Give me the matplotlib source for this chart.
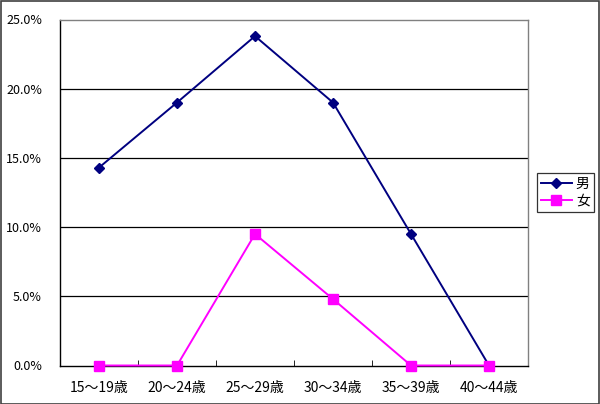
import matplotlib
matplotlib.use("Agg")
import matplotlib.pyplot as plt
from matplotlib.patches import Rectangle

plt.rcParams['font.family'] = ['Noto Sans CJK JP', 'DejaVu Sans']

categories = ["15～19歳", "20～24歳", "25～29歳", "30～34歳", "35～39歳", "40～44歳"]
male = [14.3, 19.0, 23.8, 19.0, 9.5, 0.0]
female = [0.0, 0.0, 9.5, 4.8, 0.0, 0.0]
yticks = [0, 5, 10, 15, 20, 25]
ytick_labels = ["0.0%", "5.0%", "10.0%", "15.0%", "20.0%", "25.0%"]

W, H = 600, 404
fig = plt.figure(figsize=(W / 100, H / 100), dpi=100)
fig.patches.append(Rectangle((0.5 / W, 0.5 / H), 1 - 1.5 / W, 1 - 1.5 / H, transform=fig.transFigure,
                             fill=False, edgecolor="#404040", linewidth=1.2))

left, right, top, bottom = 60, 528, 19.5, 365.5
ax = fig.add_axes([left / W, 1 - bottom / H, (right - left) / W, (bottom - top) / H])

x = list(range(len(categories)))
ax.plot(x, male, color="#000080", marker="D", markersize=5.5, linewidth=1.4, label="男", clip_on=False, zorder=3)
ax.plot(x, female, color="#FF00FF", marker="s", markersize=7.5, linewidth=1.4, label="女", clip_on=False, zorder=3)

ax.set_xlim(-0.5, len(categories) - 0.5)
ax.set_ylim(0, 25)
ax.set_yticks(yticks)
ax.set_yticklabels(ytick_labels, fontsize=9)
ax.set_xticks(x)
ax.set_xticklabels(categories, fontsize=10)
ax.tick_params(axis="x", length=0, pad=11)
ax.set_xticks([i + 0.5 for i in range(-1, len(categories))], minor=True)
ax.tick_params(axis="x", which="minor", direction="in", length=4, color="black")
ax.tick_params(axis="y", length=0, pad=13)

for v in yticks[1:-1]:
    ax.axhline(v, color="black", linewidth=0.9, zorder=1)

ax.spines["top"].set_color("#808080")
ax.spines["right"].set_color("#808080")
ax.spines["left"].set_color("black")
ax.spines["bottom"].set_color("black")
for s in ax.spines.values():
    s.set_linewidth(1.0)

leg = fig.legend(loc="upper left", bbox_to_anchor=(537 / W, 1 - 173 / H), fontsize=10,
                 frameon=True, fancybox=False, edgecolor="black", borderpad=0.3,
                 handlelength=2.2, handletextpad=0.3, labelspacing=0.2, borderaxespad=0)
leg.get_frame().set_linewidth(0.9)

fig.savefig("out.png", dpi=100)
